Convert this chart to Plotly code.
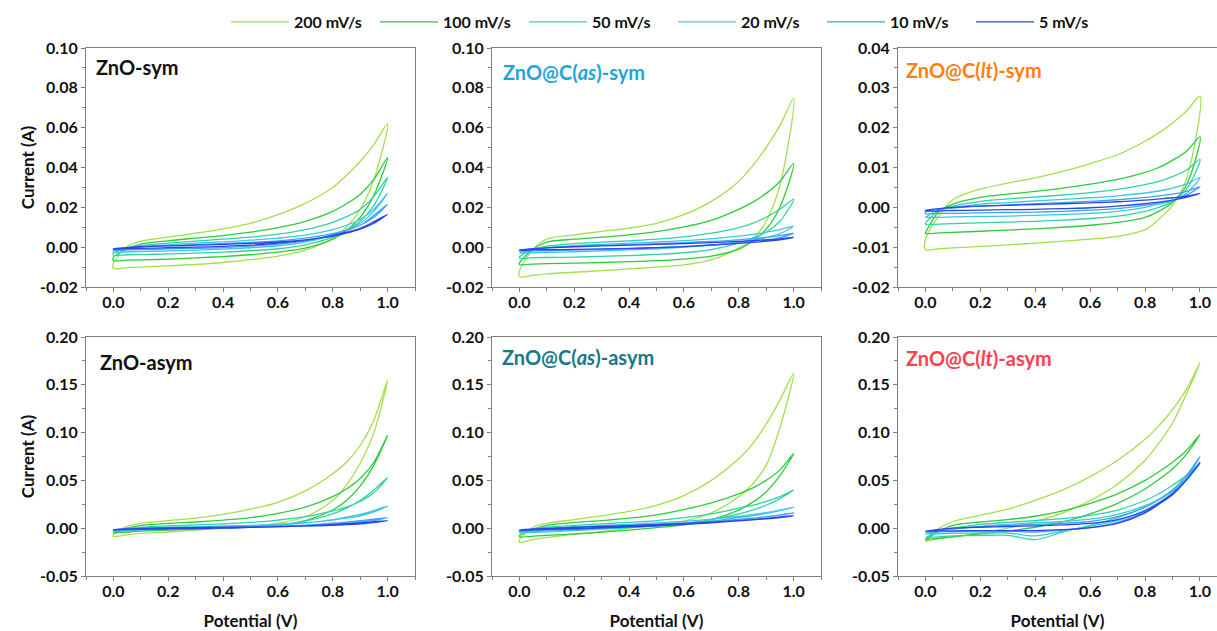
import plotly.graph_objects as go
from plotly.subplots import make_subplots

# ---------------- data ----------------
X_GRID = [0.0, 0.05, 0.1, 0.2, 0.3, 0.4, 0.5, 0.6, 0.7, 0.8, 0.85, 0.9, 0.95, 1.0]
RATES = ["200 mV/s", "100 mV/s", "50 mV/s", "20 mV/s", "10 mV/s", "5 mV/s"]
PANEL_TITLES = ["ZnO-sym", "ZnO@C(<i>as</i>)-sym", "ZnO@C(<i>lt</i>)-sym",
                "ZnO-asym", "ZnO@C(<i>as</i>)-asym", "ZnO@C(<i>lt</i>)-asym"]

# forward (anodic) sweeps, rows = 200,100,50,20,10,5 mV/s
P1_FWD = [
    [-0.0080, 0.0003, 0.0030, 0.0050, 0.0070, 0.0092, 0.0120, 0.0163, 0.0220, 0.0300, 0.0360, 0.0430, 0.0515, 0.0620],
    [-0.0050, -0.0010, 0.0015, 0.0032, 0.0045, 0.0058, 0.0075, 0.0098, 0.0130, 0.0180, 0.0218, 0.0265, 0.0340, 0.0450],
    [-0.0030, -0.0005, 0.0008, 0.0020, 0.0030, 0.0040, 0.0050, 0.0065, 0.0088, 0.0125, 0.0153, 0.0190, 0.0255, 0.0350],
    [-0.0020, -0.0004, 0.0003, 0.0012, 0.0020, 0.0027, 0.0035, 0.0045, 0.0060, 0.0088, 0.0110, 0.0140, 0.0190, 0.0270],
    [-0.0012, -0.0003, 0.0002, 0.0008, 0.0013, 0.0018, 0.0024, 0.0032, 0.0045, 0.0068, 0.0085, 0.0110, 0.0150, 0.0215],
    [-0.0008, -0.0002, 0.0002, 0.0006, 0.0010, 0.0014, 0.0019, 0.0026, 0.0037, 0.0055, 0.0070, 0.0090, 0.0120, 0.0165],
]
P1_REV = [
    [-0.0106, -0.0103, -0.0100, -0.0094, -0.0087, -0.0077, -0.0063, -0.0045, -0.0015, 0.0045, 0.0100, 0.0190, 0.0340, 0.0620],
    [-0.0067, -0.0065, -0.0064, -0.0060, -0.0054, -0.0047, -0.0038, -0.0025, -0.0005, 0.0040, 0.0085, 0.0150, 0.0260, 0.0450],
    [-0.0040, -0.0038, -0.0037, -0.0034, -0.0030, -0.0025, -0.0018, -0.0008, 0.0012, 0.0050, 0.0085, 0.0130, 0.0210, 0.0350],
    [-0.0025, -0.0023, -0.0022, -0.0019, -0.0015, -0.0010, -0.0003, 0.0007, 0.0025, 0.0060, 0.0085, 0.0120, 0.0180, 0.0270],
    [-0.0015, -0.0013, -0.0012, -0.0009, -0.0006, -0.0002, 0.0005, 0.0015, 0.0032, 0.0062, 0.0083, 0.0110, 0.0160, 0.0215],
    [-0.0009, -0.0007, -0.0006, -0.0003, 0.0000, 0.0004, 0.0010, 0.0020, 0.0035, 0.0058, 0.0075, 0.0095, 0.0128, 0.0165],
]
P2_FWD = [
    [-0.0120, -0.0010, 0.0040, 0.0062, 0.0079, 0.0096, 0.0120, 0.0163, 0.0230, 0.0330, 0.0407, 0.0500, 0.0610, 0.0746],
    [-0.0080, -0.0010, 0.0025, 0.0040, 0.0050, 0.0062, 0.0078, 0.0102, 0.0135, 0.0190, 0.0225, 0.0270, 0.0330, 0.0420],
    [-0.0050, -0.0010, 0.0005, 0.0018, 0.0025, 0.0032, 0.0040, 0.0052, 0.0070, 0.0098, 0.0120, 0.0150, 0.0190, 0.0240],
    [-0.0030, -0.0010, -0.0002, 0.0008, 0.0014, 0.0020, 0.0026, 0.0033, 0.0042, 0.0055, 0.0064, 0.0075, 0.0088, 0.0105],
    [-0.0020, -0.0008, -0.0003, 0.0004, 0.0009, 0.0013, 0.0018, 0.0023, 0.0029, 0.0037, 0.0043, 0.0049, 0.0058, 0.0070],
    [-0.0015, -0.0008, -0.0004, 0.0002, 0.0006, 0.0010, 0.0014, 0.0018, 0.0023, 0.0029, 0.0033, 0.0037, 0.0042, 0.0050],
]
P2_REV = [
    [-0.0148, -0.0141, -0.0134, -0.0126, -0.0118, -0.0109, -0.0100, -0.0089, -0.0064, -0.0005, 0.0040, 0.0130, 0.0310, 0.0746],
    [-0.0087, -0.0085, -0.0083, -0.0080, -0.0077, -0.0073, -0.0068, -0.0060, -0.0045, -0.0010, 0.0030, 0.0090, 0.0200, 0.0420],
    [-0.0055, -0.0053, -0.0052, -0.0050, -0.0046, -0.0042, -0.0036, -0.0028, -0.0012, 0.0020, 0.0045, 0.0075, 0.0130, 0.0240],
    [-0.0030, -0.0028, -0.0027, -0.0023, -0.0019, -0.0014, -0.0008, 0.0000, 0.0010, 0.0025, 0.0035, 0.0048, 0.0068, 0.0105],
    [-0.0020, -0.0019, -0.0018, -0.0015, -0.0012, -0.0008, -0.0003, 0.0003, 0.0011, 0.0022, 0.0029, 0.0036, 0.0048, 0.0070],
    [-0.0016, -0.0014, -0.0013, -0.0011, -0.0009, -0.0006, -0.0002, 0.0003, 0.0010, 0.0019, 0.0024, 0.0030, 0.0037, 0.0050],
]
P3_FWD = [
    [-0.0080, -0.0020, 0.0019, 0.0046, 0.0061, 0.0074, 0.0090, 0.0110, 0.0132, 0.0166, 0.0187, 0.0212, 0.0241, 0.0279],
    [-0.0065, -0.0010, 0.0008, 0.0025, 0.0033, 0.0040, 0.0048, 0.0058, 0.0070, 0.0088, 0.0100, 0.0118, 0.0140, 0.0177],
    [-0.0040, -0.0008, 0.0003, 0.0015, 0.0021, 0.0026, 0.0031, 0.0037, 0.0045, 0.0057, 0.0065, 0.0077, 0.0093, 0.0120],
    [-0.0025, -0.0006, 0.0000, 0.0008, 0.0012, 0.0016, 0.0020, 0.0024, 0.0029, 0.0036, 0.0041, 0.0048, 0.0058, 0.0075],
    [-0.0012, -0.0005, -0.0002, 0.0003, 0.0006, 0.0009, 0.0012, 0.0015, 0.0019, 0.0025, 0.0029, 0.0033, 0.0040, 0.0052],
    [-0.0008, -0.0003, 0.0000, 0.0003, 0.0005, 0.0007, 0.0009, 0.0011, 0.0014, 0.0018, 0.0021, 0.0024, 0.0028, 0.0035],
]
P3_REV = [
    [-0.0106, -0.0104, -0.0102, -0.0098, -0.0094, -0.0090, -0.0085, -0.0080, -0.0073, -0.0056, -0.0030, 0.0005, 0.0070, 0.0279],
    [-0.0066, -0.0064, -0.0063, -0.0060, -0.0057, -0.0054, -0.0050, -0.0045, -0.0038, -0.0025, -0.0010, 0.0012, 0.0055, 0.0177],
    [-0.0043, -0.0042, -0.0041, -0.0039, -0.0037, -0.0035, -0.0032, -0.0028, -0.0022, -0.0010, 0.0000, 0.0015, 0.0045, 0.0120],
    [-0.0025, -0.0025, -0.0024, -0.0023, -0.0022, -0.0020, -0.0018, -0.0015, -0.0010, 0.0000, 0.0008, 0.0017, 0.0035, 0.0075],
    [-0.0016, -0.0015, -0.0015, -0.0014, -0.0013, -0.0012, -0.0010, -0.0007, -0.0003, 0.0005, 0.0011, 0.0018, 0.0030, 0.0052],
    [-0.0009, -0.0009, -0.0008, -0.0007, -0.0006, -0.0005, -0.0003, -0.0001, 0.0003, 0.0009, 0.0013, 0.0018, 0.0025, 0.0035],
]
P4_FWD = [
    [-0.0070, 0.0020, 0.0050, 0.0080, 0.0105, 0.0145, 0.0200, 0.0270, 0.0390, 0.0570, 0.0690, 0.0865, 0.1130, 0.1550],
    [-0.0050, 0.0000, 0.0030, 0.0050, 0.0065, 0.0085, 0.0110, 0.0155, 0.0220, 0.0330, 0.0410, 0.0520, 0.0690, 0.0970],
    [-0.0040, -0.0005, 0.0010, 0.0025, 0.0035, 0.0045, 0.0060, 0.0085, 0.0120, 0.0180, 0.0220, 0.0280, 0.0370, 0.0530],
    [-0.0030, -0.0010, 0.0000, 0.0010, 0.0017, 0.0023, 0.0030, 0.0042, 0.0058, 0.0085, 0.0105, 0.0130, 0.0170, 0.0230],
    [-0.0020, -0.0008, -0.0003, 0.0004, 0.0008, 0.0012, 0.0016, 0.0022, 0.0030, 0.0043, 0.0052, 0.0063, 0.0082, 0.0110],
    [-0.0015, -0.0007, -0.0003, 0.0003, 0.0006, 0.0009, 0.0012, 0.0016, 0.0022, 0.0030, 0.0037, 0.0045, 0.0058, 0.0080],
]
P4_REV = [
    [-0.0085, -0.0070, -0.0055, -0.0040, -0.0020, 0.0000, 0.0020, 0.0050, 0.0120, 0.0290, 0.0450, 0.0680, 0.1000, 0.1550],
    [-0.0050, -0.0040, -0.0030, -0.0020, -0.0010, 0.0000, 0.0012, 0.0030, 0.0080, 0.0190, 0.0290, 0.0440, 0.0660, 0.0970],
    [-0.0035, -0.0028, -0.0022, -0.0015, -0.0007, 0.0003, 0.0015, 0.0035, 0.0075, 0.0150, 0.0210, 0.0290, 0.0400, 0.0530],
    [-0.0028, -0.0022, -0.0017, -0.0010, -0.0003, 0.0005, 0.0015, 0.0030, 0.0055, 0.0090, 0.0115, 0.0145, 0.0185, 0.0230],
    [-0.0022, -0.0017, -0.0013, -0.0008, -0.0003, 0.0003, 0.0010, 0.0020, 0.0033, 0.0052, 0.0064, 0.0078, 0.0095, 0.0110],
    [-0.0016, -0.0013, -0.0010, -0.0007, -0.0003, 0.0002, 0.0008, 0.0015, 0.0025, 0.0038, 0.0047, 0.0056, 0.0068, 0.0080],
]
P5_FWD = [
    [-0.0120, 0.0010, 0.0050, 0.0090, 0.0130, 0.0175, 0.0240, 0.0340, 0.0500, 0.0726, 0.0880, 0.1090, 0.1340, 0.1620],
    [-0.0080, -0.0010, 0.0030, 0.0060, 0.0080, 0.0105, 0.0140, 0.0195, 0.0265, 0.0360, 0.0420, 0.0500, 0.0610, 0.0780],
    [-0.0050, -0.0010, 0.0010, 0.0030, 0.0045, 0.0060, 0.0080, 0.0110, 0.0150, 0.0210, 0.0240, 0.0280, 0.0330, 0.0400],
    [-0.0040, -0.0015, -0.0005, 0.0015, 0.0028, 0.0040, 0.0055, 0.0072, 0.0095, 0.0125, 0.0143, 0.0163, 0.0188, 0.0220],
    [-0.0030, -0.0013, -0.0005, 0.0010, 0.0020, 0.0030, 0.0042, 0.0055, 0.0072, 0.0093, 0.0106, 0.0120, 0.0137, 0.0160],
    [-0.0020, -0.0008, -0.0002, 0.0009, 0.0018, 0.0027, 0.0037, 0.0048, 0.0062, 0.0078, 0.0088, 0.0098, 0.0110, 0.0130],
]
P5_REV = [
    [-0.0147, -0.0120, -0.0095, -0.0065, -0.0035, 0.0000, 0.0035, 0.0075, 0.0160, 0.0330, 0.0460, 0.0660, 0.1050, 0.1620],
    [-0.0090, -0.0083, -0.0075, -0.0060, -0.0042, -0.0020, 0.0005, 0.0035, 0.0090, 0.0190, 0.0270, 0.0380, 0.0550, 0.0780],
    [-0.0050, -0.0044, -0.0038, -0.0025, -0.0010, 0.0005, 0.0025, 0.0050, 0.0090, 0.0150, 0.0190, 0.0240, 0.0310, 0.0400],
    [-0.0042, -0.0036, -0.0030, -0.0018, -0.0005, 0.0010, 0.0027, 0.0048, 0.0075, 0.0110, 0.0130, 0.0155, 0.0185, 0.0220],
    [-0.0030, -0.0025, -0.0020, -0.0010, 0.0000, 0.0011, 0.0025, 0.0042, 0.0062, 0.0088, 0.0103, 0.0120, 0.0140, 0.0160],
    [-0.0022, -0.0018, -0.0013, -0.0006, 0.0003, 0.0013, 0.0025, 0.0040, 0.0057, 0.0078, 0.0090, 0.0103, 0.0118, 0.0130],
]
P6_FWD = [
    [-0.0140, 0.0000, 0.0070, 0.0135, 0.0200, 0.0290, 0.0400, 0.0540, 0.0710, 0.0930, 0.1070, 0.1240, 0.1450, 0.1730],
    [-0.0120, -0.0030, 0.0030, 0.0065, 0.0090, 0.0125, 0.0180, 0.0260, 0.0360, 0.0500, 0.0590, 0.0690, 0.0810, 0.0980],
    [-0.0100, -0.0030, 0.0000, 0.0040, 0.0060, 0.0080, 0.0100, 0.0135, 0.0190, 0.0290, 0.0360, 0.0450, 0.0550, 0.0680],
    [-0.0060, -0.0030, -0.0010, 0.0020, 0.0040, 0.0055, 0.0070, 0.0095, 0.0145, 0.0235, 0.0300, 0.0390, 0.0510, 0.0670],
    [-0.0040, -0.0020, -0.0005, 0.0015, 0.0030, 0.0040, 0.0050, 0.0070, 0.0120, 0.0220, 0.0300, 0.0400, 0.0550, 0.0750],
    [-0.0030, -0.0012, 0.0000, 0.0010, 0.0018, 0.0025, 0.0035, 0.0050, 0.0090, 0.0180, 0.0260, 0.0360, 0.0500, 0.0690],
]
P6_REV = [
    [-0.0140, -0.0110, -0.0090, -0.0050, 0.0000, 0.0070, 0.0160, 0.0290, 0.0460, 0.0710, 0.0890, 0.1100, 0.1400, 0.1730],
    [-0.0120, -0.0105, -0.0090, -0.0060, -0.0030, 0.0010, 0.0065, 0.0150, 0.0260, 0.0410, 0.0510, 0.0620, 0.0770, 0.0980],
    [-0.0100, -0.0090, -0.0080, -0.0075, -0.0075, -0.0120, -0.0040, 0.0030, 0.0110, 0.0220, 0.0300, 0.0400, 0.0520, 0.0680],
    [-0.0060, -0.0058, -0.0055, -0.0050, -0.0050, -0.0080, -0.0030, 0.0020, 0.0080, 0.0190, 0.0270, 0.0370, 0.0500, 0.0670],
    [-0.0040, -0.0038, -0.0035, -0.0030, -0.0030, -0.0040, -0.0020, 0.0005, 0.0060, 0.0170, 0.0260, 0.0360, 0.0520, 0.0750],
    [-0.0030, -0.0029, -0.0028, -0.0025, -0.0025, -0.0025, -0.0015, 0.0005, 0.0050, 0.0160, 0.0250, 0.0350, 0.0500, 0.0690],
]

X_TICKS = [0.0, 0.2, 0.4, 0.6, 0.8, 1.0]
Y_TICKS_A = [-0.02, 0.0, 0.02, 0.04, 0.06, 0.08, 0.10]
Y_TICKS_B = [-0.02, -0.01, 0.0, 0.01, 0.02, 0.03, 0.04]
Y_TICKS_C = [-0.05, 0.0, 0.05, 0.10, 0.15, 0.20]

# ---------------- styles ----------------
COLORS = ["#a2e04a", "#2dcc3a", "#2fd3a6", "#3dc8df", "#3fa4f2", "#2b45ea"]
TITLE_COLORS = ["#111111", "#1ea6dc", "#ff7f10", "#111111", "#16798b", "#ff4050"]
FONT = "Lato"
AX_GRAY = "#7f7f7f"

panels = [(P1_FWD, P1_REV), (P2_FWD, P2_REV), (P3_FWD, P3_REV),
          (P4_FWD, P4_REV), (P5_FWD, P5_REV), (P6_FWD, P6_REV)]

fig = make_subplots(rows=2, cols=3)

W, H = 1217, 631
col_dom = [(86 / W, 415 / W), (492 / W, 821 / W), (898 / W, 1.0)]
row_dom = [((H - 287) / H, (H - 48) / H), ((H - 576) / H, (H - 337) / H)]

for p, (fwd, rev) in enumerate(panels):
    r, c = p // 3 + 1, p % 3 + 1
    for k in range(len(RATES)):
        xs = X_GRID + X_GRID[::-1][1:] + [X_GRID[0]]
        ys = fwd[k] + rev[k][::-1][1:] + [fwd[k][0]]
        fig.add_trace(go.Scatter(
            x=xs, y=ys, mode="lines", name=RATES[k],
            line=dict(color=COLORS[k], width=1.3, shape="spline", smoothing=0.9),
            showlegend=(p == 0), legendgroup=RATES[k], hoverinfo="skip"),
            row=r, col=c)

tickfont = dict(family=FONT, size=16, color="#111111", weight="bold")
for p in range(6):
    r, c = p // 3 + 1, p % 3 + 1
    idx = "" if p == 0 else str(p + 1)
    xr = [-0.1, 1.1] if c < 3 else [-0.1, 1.062]
    if r == 1:
        yt = Y_TICKS_B if c == 3 else Y_TICKS_A
        ymin = 0.005 if c == 3 else 0.01
    else:
        yt = Y_TICKS_C
        ymin = 0.025
    fig.layout["xaxis" + idx].update(
        domain=col_dom[c - 1], range=xr, tickmode="array", tickvals=X_TICKS,
        ticktext=[f"{v:.1f}" for v in X_TICKS], ticks="outside", ticklen=4,
        tickcolor=AX_GRAY, showline=True, linecolor=AX_GRAY, linewidth=1.2,
        mirror=True, showgrid=False, zeroline=False, tickfont=tickfont,
        ticklabelstandoff=-3,
        minor=dict(tickmode="linear", tick0=0, dtick=0.1, ticks="outside",
                   ticklen=3, tickcolor=AX_GRAY),
        title=dict(text="Potential (V)" if r == 2 else "",
                   font=dict(family=FONT, size=17, color="#111111", weight="bold"),
                   standoff=16))
    fig.layout["yaxis" + idx].update(
        domain=row_dom[r - 1], range=[yt[0], yt[-1]], tickmode="array", tickvals=yt,
        ticktext=[f"{v:.2f}" for v in yt], ticks="outside", ticklen=4,
        tickcolor=AX_GRAY, showline=True, linecolor=AX_GRAY, linewidth=1.2,
        mirror=(c < 3), showgrid=False, zeroline=False, tickfont=tickfont,
        minor=dict(tickmode="linear", tick0=0, dtick=ymin, ticks="outside",
                   ticklen=3, tickcolor=AX_GRAY),
        title=dict(text="Current (A)" if c == 1 else "",
                   font=dict(family=FONT, size=17, color="#111111", weight="bold"),
                   standoff=1))

title_pos = [(0.024, 0.92), (0.027, 0.90), (0.02, 0.91),
             (0.036, 0.895), (0.025, 0.916), (0.02, 0.912)]
for p in range(6):
    idx = "" if p == 0 else str(p + 1)
    fig.add_annotation(
        xref=f"x{idx} domain", yref=f"y{idx} domain",
        x=title_pos[p][0], y=title_pos[p][1], xanchor="left", yanchor="middle",
        text=PANEL_TITLES[p], showarrow=False,
        font=dict(family=FONT, size=20, color=TITLE_COLORS[p], weight="bold"))

fig.update_layout(
    width=W, height=H, autosize=False,
    margin=dict(l=0, r=0, t=0, b=0, autoexpand=False),
    paper_bgcolor="white", plot_bgcolor="white",
    font=dict(family=FONT),
    legend=dict(orientation="h", x=226 / W, y=(H - 22) / H, xanchor="left",
                yanchor="middle", itemwidth=58, entrywidth=76, entrywidthmode="pixels",
                font=dict(family=FONT, size=16, color="#111111", weight="bold"),
                bgcolor="rgba(0,0,0,0)", tracegroupgap=0, itemclick=False),
)

fig.write_html("out.html")
